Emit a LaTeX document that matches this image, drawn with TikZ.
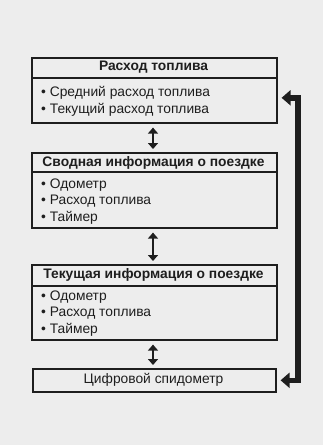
\documentclass[tikz,border=0pt]{standalone}
\usepackage{fontspec}
\setmainfont{Liberation Sans}
\usetikzlibrary{arrows.meta}
\definecolor{bg}{HTML}{EDEDED}
\definecolor{ink}{HTML}{1E1E1E}
\begin{document}
\begin{tikzpicture}[x=1pt,y=-1pt,
  box/.style={draw=ink, line width=1.6pt, inner sep=0pt, anchor=north west},
  sep/.style={draw=ink, line width=1.3pt},
  hdr/.style={font=\bfseries\fontsize{13.8}{16}\selectfont, text=ink, inner sep=0pt},
  item/.style={font=\fontsize{13.8}{16}\selectfont, text=ink, inner sep=0pt, anchor=west},
  dbl/.style={draw=ink, line width=2.8pt, {Triangle[length=6pt,width=10pt]}-{Triangle[length=6pt,width=10pt]}, shorten <=4pt, shorten >=3pt},
  fb/.style={draw=ink, line width=5.5pt, line join=miter, {Triangle[length=9pt,width=15pt]}-{Triangle[length=9pt,width=15pt]}, shorten <=4pt, shorten >=4pt}
]
\fill[bg] (0,0) rectangle (323,445);
\useasboundingbox (0,0) rectangle (323,445);

% box 1
\node[box, minimum width=245pt, minimum height=65pt] (b1) at (31,57) {};
\draw[sep] (31,78) -- (276,78);
\node[hdr] (h1) at (153.5,67.5) {Расход топлива};
\node[item] (i11) at (41,92.5) {• Средний расход топлива};
\node[item] (i12) at (41,109.5) {• Текущий расход топлива};

% box 2
\node[box, minimum width=245pt, minimum height=75pt] (b2) at (31,152) {};
\draw[sep] (31,172) -- (276,172);
\node[hdr] (h2) at (153.5,162.5) {Сводная информация о поездке};
\node[item] (i21) at (41,185) {• Одометр};
\node[item] (i22) at (41,201.5) {• Расход топлива};
\node[item] (i23) at (41,218) {• Таймер};

% box 3
\node[box, minimum width=245pt, minimum height=75pt] (b3) at (31,264) {};
\draw[sep] (31,286) -- (276,286);
\node[hdr] (h3) at (153.5,275) {Текущая информация о поездке};
\node[item] (i31) at (41,297) {• Одометр};
\node[item] (i32) at (41,313.5) {• Расход топлива};
\node[item] (i33) at (41,330) {• Таймер};

% box 4
\node[box, minimum width=243pt, minimum height=23pt] (b4) at (32,368) {};
\node[item, anchor=center] (t4) at (153.5,380) {Цифровой спидометр};

% double arrows
\draw[dbl] (b1.south -| 153,0) -- (b2.north -| 153,0);
\draw[dbl] (b2.south -| 153,0) -- (b3.north -| 153,0);
\draw[dbl] (b3.south -| 153,0) -- (b4.north -| 153,0);

% feedback
\draw[fb] (b4.east) -- ++(21.5,0) |- ([yshift=-7.5pt]b1.east);
\end{tikzpicture}
\end{document}
